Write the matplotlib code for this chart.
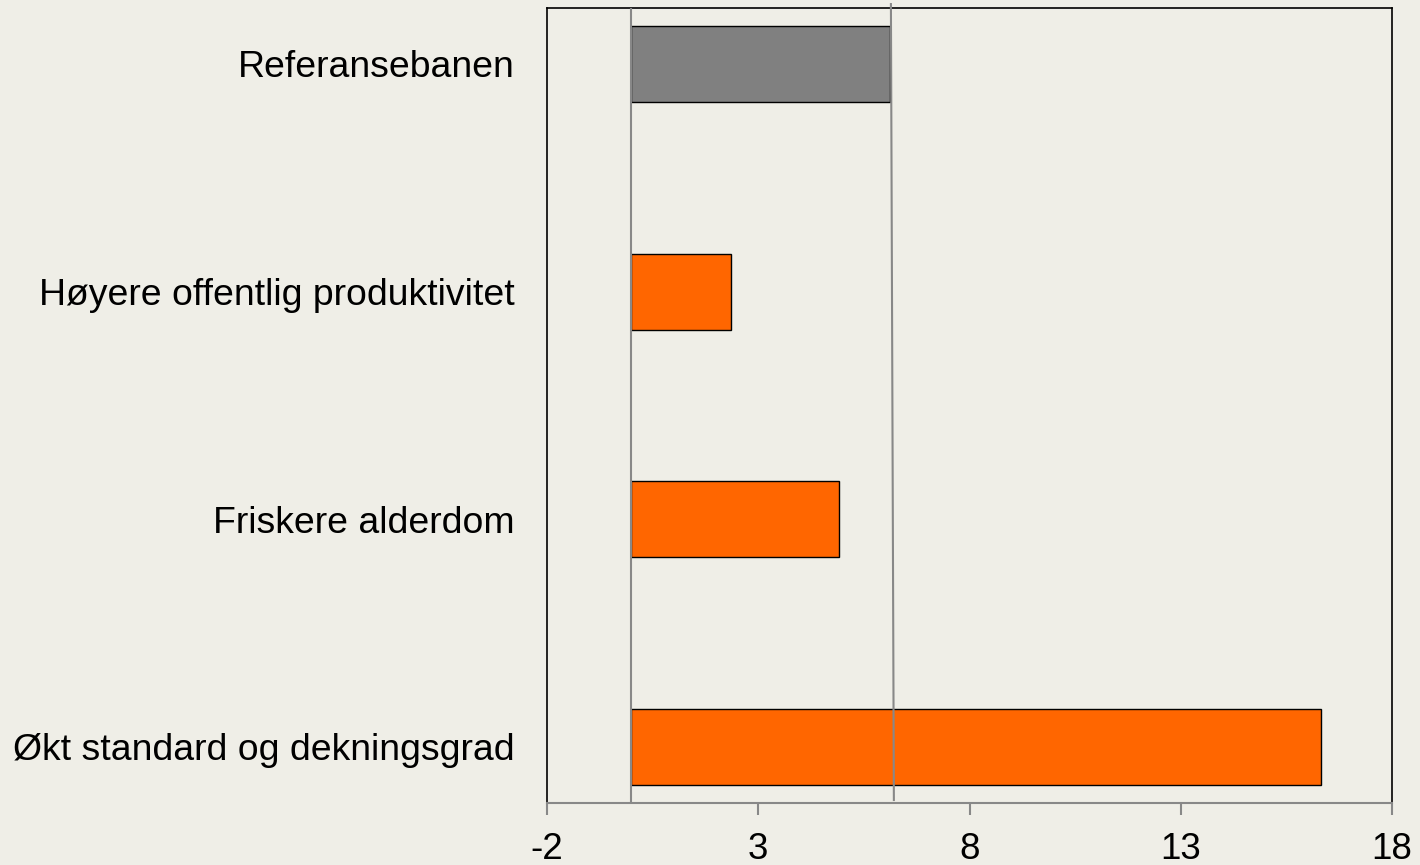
import matplotlib.pyplot as plt

# data
categories = ["Referansebanen", "Høyere offentlig produktivitet",
              "Friskere alderdom", "Økt standard og dekningsgrad"]
values = [6.12, 2.35, 4.91, 16.32]
bar_colors = ["#808080", "#FF6600", "#FF6600", "#FF6600"]
xticks = [-2, 3, 8, 13, 18]
ref_line = (6.14, 6.21)  # slightly slanted reference line (top, bottom)

plt.rcParams['font.family'] = ['Liberation Sans', 'DejaVu Sans']
bg = "#EFEEE7"

fig = plt.figure(figsize=(14.2, 8.65), dpi=100, facecolor=bg)
ax = fig.add_axes([0.3852, 0.0717, 0.5951, 0.9191], facecolor=bg)

ypos = list(range(len(categories)))
ax.barh(ypos, values, height=0.334, color=bar_colors,
        edgecolor="black", linewidth=1.0, zorder=2)

ax.set_xlim(-2, 18)
ax.set_ylim(3.246, -0.246)

# vertical lines
ax.axvline(0, color="#888888", linewidth=1.5, zorder=3)
ax.plot([ref_line[0], ref_line[1]], [-0.263, 3.233], color="#888888",
        linewidth=1.5, zorder=3, clip_on=False)

ax.set_xticks(xticks)
ax.set_xticklabels([str(t) for t in xticks], fontsize=26.5)
ax.set_yticks(ypos)
ax.set_yticklabels(categories, fontsize=26.9)
ax.tick_params(axis="y", length=0, pad=23.5)
ax.tick_params(axis="x", direction="out", length=8.6, width=1.5,
               color="#888888", pad=12)

for side in ["left", "right", "top"]:
    ax.spines[side].set_color("black")
    ax.spines[side].set_linewidth(1.2)
ax.spines["bottom"].set_color("#888888")
ax.spines["bottom"].set_linewidth(1.5)

fig.savefig("out.png", dpi=100, facecolor=bg)
